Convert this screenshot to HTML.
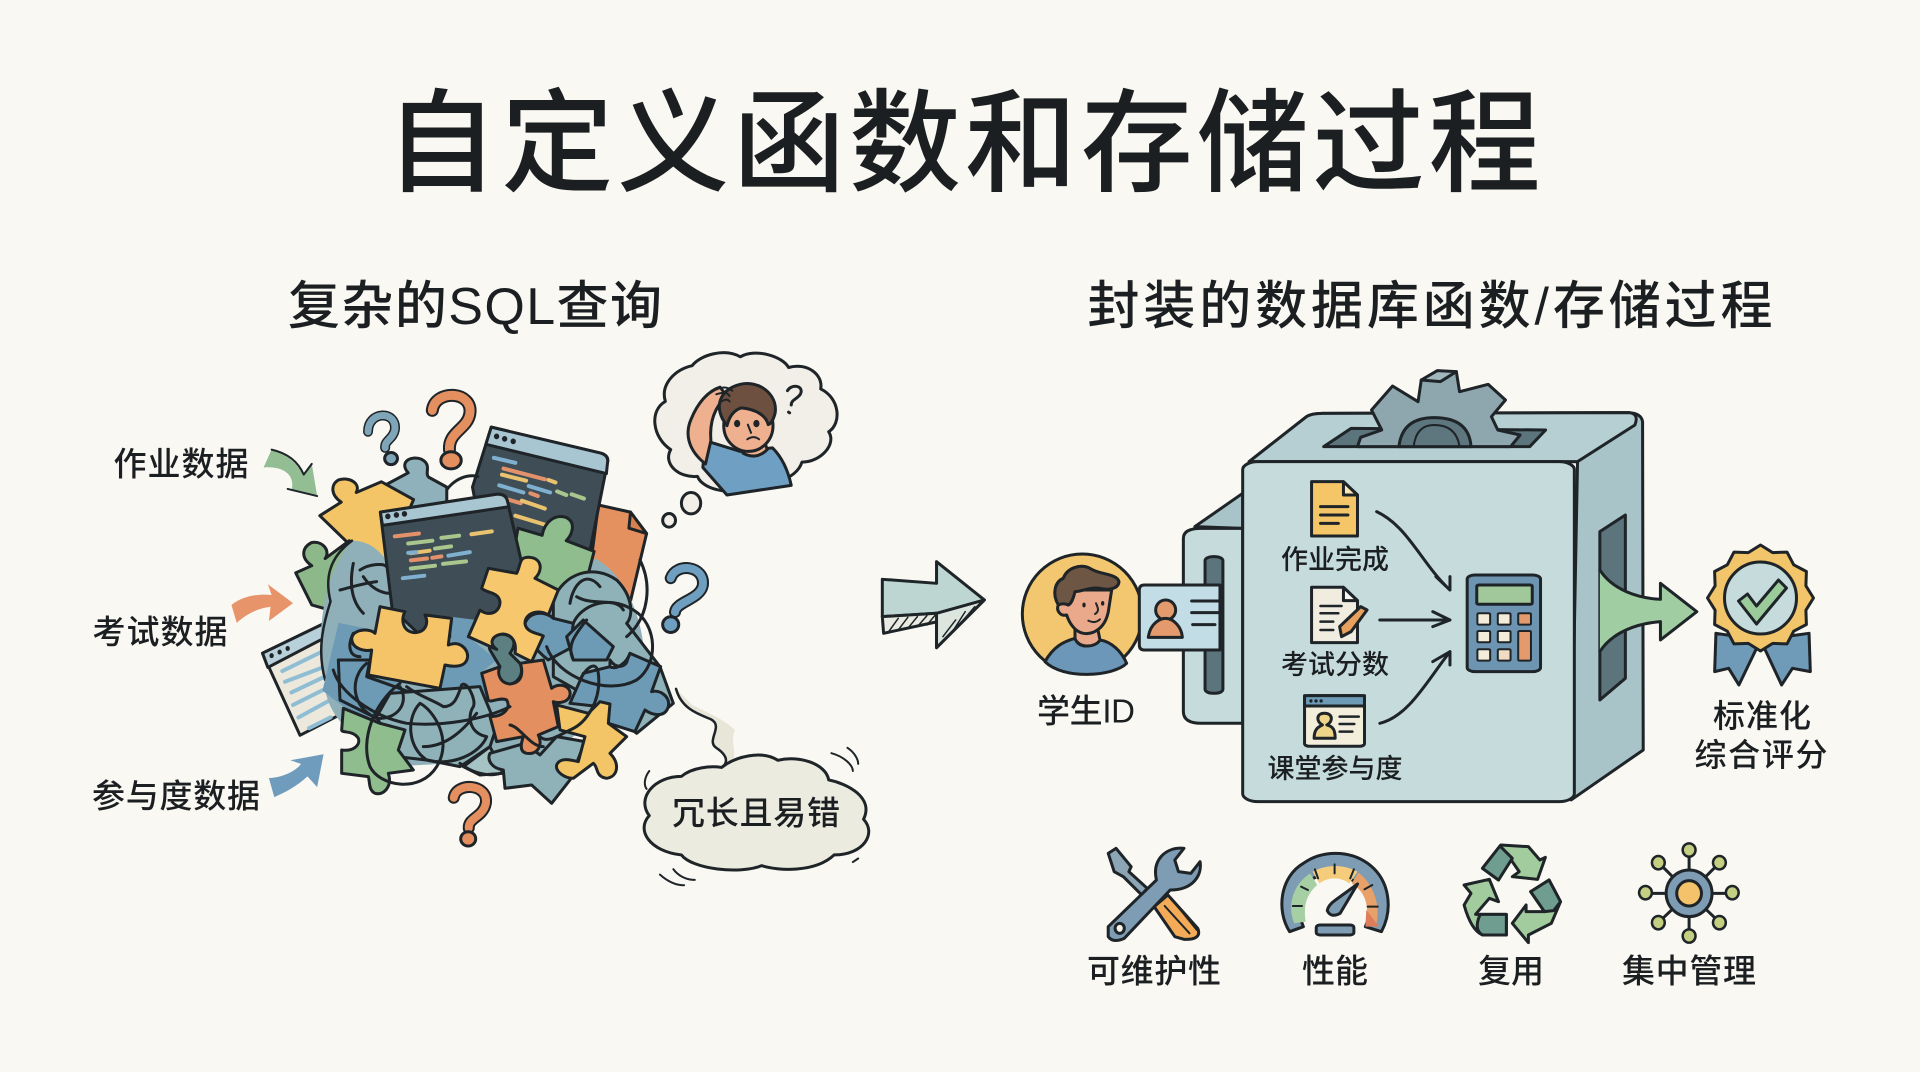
<!DOCTYPE html>
<html><head><meta charset="utf-8"><style>
html,body{margin:0;padding:0;background:#f9f8f3;width:1920px;height:1072px;overflow:hidden}
svg{display:block}
path,ellipse,circle,rect,line,polygon{vector-effect:non-scaling-stroke}
.s{stroke:#1e2427;stroke-width:3;stroke-linejoin:round;stroke-linecap:round}
.n{fill:none}
.o{stroke:none}
text{font-family:"Liberation Sans","Noto Sans CJK SC",sans-serif;fill:#1c1f21;stroke:none;text-anchor:middle;dominant-baseline:central;font-weight:500}
</style></head><body>
<svg width="1920" height="1072" viewBox="0 0 1920 1072" xmlns="http://www.w3.org/2000/svg">
<rect width="1920" height="1072" fill="#f9f8f3"/>
<text x="963" y="144" font-size="112" textLength="1155" lengthAdjust="spacing">自定义函数和存储过程</text>
<text x="475" y="307" font-size="52" textLength="374" lengthAdjust="spacing">复杂的SQL查询</text>
<text x="1430" y="307" font-size="52" textLength="685" lengthAdjust="spacing">封装的数据库函数/存储过程</text>

<!-- LEFT back layer -->
<g class="s" transform="translate(60,330) scale(.5357,.3571)">
 <!-- question marks -->
 <path class="n" d="M695 225C700 165 772 170 765 235C760 278 725 285 727 335" style="stroke-width:13"/>
 <path d="M695 225C700 165 772 170 765 235C760 278 725 285 727 335" style="stroke:#e48f5f;stroke-width:9;fill:none"/>
 <ellipse cx="730" cy="365" rx="19" ry="24" fill="#e48f5f"/>
 <path class="n" d="M575 285C575 225 630 225 625 280C622 305 605 310 607 330" style="stroke-width:10"/>
 <path d="M575 285C575 225 630 225 625 280C622 305 605 310 607 330" style="stroke:#7fa6b8;stroke-width:7;fill:none"/>
 <ellipse cx="618" cy="360" rx="12" ry="17" fill="#7fa6b8"/>
 <path class="n" d="M1140 695C1150 650 1205 660 1200 715C1195 755 1150 760 1148 790" style="stroke-width:12"/>
 <path d="M1140 695C1150 650 1205 660 1200 715C1195 755 1150 760 1148 790" style="stroke:#6f9fc0;stroke-width:8;fill:none"/>
 <ellipse cx="1140" cy="825" rx="15" ry="22" fill="#6f9fc0"/>
 <path class="n" d="M735 1310C740 1265 800 1270 795 1325C790 1365 762 1365 763 1395" style="stroke-width:12"/>
 <path d="M735 1310C740 1265 800 1270 795 1325C790 1365 762 1365 763 1395" style="stroke:#e48f5f;stroke-width:8;fill:none"/>
 <ellipse cx="762" cy="1425" rx="14" ry="20" fill="#e48f5f"/>

 <!-- arrows -->
 <path d="M380 385C420 380 440 410 432 450L480 465L470 375L455 405C440 370 420 345 395 335Z" fill="#93bd92" style="stroke:none"/>
 <path class="n" d="M395 335C425 345 445 370 455 405L470 375M480 465L425 445" style="stroke-width:2"/>
 <path d="M320 770C340 745 370 738 395 742L388 712L435 765L390 815L393 775C365 780 345 800 330 820Z" fill="#e8946a" style="stroke:none"/>
 <path d="M390 1255C420 1252 442 1232 450 1215L430 1205L492 1188L480 1280L462 1250C440 1280 420 1295 400 1308Z" fill="#6f9cbc" style="stroke:none"/>

 <!-- thought bubble -->
 <path d="M1180 100C1195 70 1240 50 1270 75C1300 50 1350 75 1360 105C1395 90 1425 125 1420 165C1455 190 1460 260 1435 285C1450 320 1420 370 1385 370C1375 420 1320 440 1290 425C1265 470 1200 450 1190 410C1155 415 1125 375 1140 335C1105 300 1100 225 1130 200C1120 150 1150 110 1180 100Z" fill="#f1efe8"/>
 <ellipse cx="1178" cy="485" rx="18" ry="30" fill="#f1efe8"/>
 <ellipse cx="1137" cy="533" rx="12" ry="19" fill="#f1efe8"/>
 <path d="M1205 310L1270 340L1330 330C1350 360 1360 400 1365 435L1245 462L1200 385Z" fill="#6f9fc2"/>
 <path d="M1205 375C1175 340 1165 295 1178 250C1190 205 1210 170 1232 160L1245 185C1222 215 1212 255 1215 310Z" fill="#eeb08e"/>
 <path d="M1272 320L1275 345Q1300 365 1320 335L1315 310Z" fill="#eeb08e"/>
 <ellipse cx="1285" cy="268" rx="46" ry="72" fill="#eeb08e"/>
 <path d="M1237 250C1222 205 1235 165 1270 152C1305 140 1340 180 1335 232C1332 250 1328 262 1322 265C1318 240 1300 222 1272 218C1258 225 1250 240 1245 268Z" fill="#6d5040"/>
 <ellipse cx="1264" cy="262" rx="3" ry="6" fill="#1e2427"/>
 <ellipse cx="1300" cy="262" rx="3" ry="6" fill="#1e2427"/>
 <path class="n" d="M1284 265L1290 288M1283 306Q1295 294 1305 306" style="stroke-width:2"/>
 <path class="n" d="M1215 175Q1240 150 1255 170M1225 180Q1245 170 1250 185M1235 200Q1245 190 1250 200" style="stroke-width:2"/>
 <path class="n" d="M1358 170C1365 150 1390 155 1382 180C1375 195 1365 195 1365 210M1360 230L1362 232" style="stroke-width:3"/>

 <!-- orange doc -->
 <path d="M1005 490L1065 510L1095 570L1060 790L985 720Z" fill="#e4915f"/>
 <path d="M1065 510L1062 555L1095 570Z" fill="#d8814e"/>

 <!-- back dark window -->
 <path d="M805 272L1010 345Q1025 352 1022 372L985 650L800 680L770 440Z" fill="#3f4d57"/>
 <path d="M805 272L1010 345Q1025 352 1022 372L1020 402L795 320Z" fill="#a8c5d2"/>
 <g fill="#1e2427" style="stroke:none"><ellipse cx="815" cy="298" rx="5" ry="8"/><ellipse cx="830" cy="305" rx="5" ry="8"/><ellipse cx="846" cy="312" rx="5" ry="8"/></g>
 <g>
  <path class="n" d="M810 358L850 372" style="stroke:#7fb0d0;stroke-width:4"/>
  <path class="n" d="M828 388L905 418" style="stroke:#e3916a;stroke-width:4"/>
  <path class="n" d="M912 420L925 427M825 405L870 422" style="stroke:#e8c26e;stroke-width:4"/>
  <path class="n" d="M820 435L865 455M875 437L915 455" style="stroke:#7fb0d0;stroke-width:4"/>
  <path class="n" d="M928 452L945 462M955 460L978 472" style="stroke:#a9c78c;stroke-width:4"/>
  <path class="n" d="M825 470L860 485M878 457L892 465" style="stroke:#e3916a;stroke-width:4"/>
  <path class="n" d="M862 478L905 500" style="stroke:#e8c26e;stroke-width:4"/>
  <path class="n" d="M850 520L905 545" style="stroke:#e8c26e;stroke-width:4"/>
 </g>
 <path class="n" d="M715 475C720 430 755 400 780 410"/>
 <!-- left light window -->
 <path d="M378 905L530 795L545 1060L448 1135Z" fill="#ece8dc"/>
 <path d="M378 905L530 795L535 830L388 945Z" fill="#b8d0da"/>
 <g fill="#1e2427" style="stroke:none"><ellipse cx="395" cy="912" rx="4" ry="7"/><ellipse cx="410" cy="902" rx="4" ry="7"/><ellipse cx="425" cy="892" rx="4" ry="7"/></g>
 <g style="stroke:#8fbdd4;stroke-width:4;fill:none"><path d="M415 955L490 900M420 985L490 945M432 1015L495 970M435 1050L495 1005M445 1085L500 1040M465 1115L505 1085"/></g>

 <!-- yellow top-left, teal top piece, left green -->
 <path d="M600 440L650 400C632 370 655 350 675 362C695 378 680 400 688 412L722 440L722 500L610 500Z" fill="#8fb1bb"/>
 <path d="M520 420C540 410 562 430 553 455L600 425L660 475L610 650L540 600L485 520L525 482C505 462 505 432 520 420Z" fill="#f4c566"/>
 <path d="M470 595C492 590 505 620 495 640L540 590L640 720L505 785L470 770L440 680L470 660C450 640 450 610 470 595Z" fill="#8db98a"/>
 <!-- base blob -->
 <path d="M545 590C590 590 610 640 640 720L820 780L1000 640C1070 700 1100 860 1090 1000L900 1200L650 1220C560 1170 490 1080 495 980C475 880 490 680 545 590Z" fill="#8fb0b8" style="stroke:none"/>
 <path class="n" d="M545 590C500 640 495 700 505 760C490 830 480 900 495 980" style="stroke-width:2.5;fill:none"/>
 <path d="M520 820L620 850L640 1050L560 1090L490 1010Z" fill="#6d9ab5" style="stroke:none"/>
 <!-- green upper right piece -->
 <path d="M855 555L900 575C905 535 925 515 945 525C965 540 955 575 945 590L997 620L985 690L900 760L840 680Z" fill="#8fbd8d"/>
 <!-- front dark window -->
 <path d="M598 510L815 460Q832 458 835 478L880 770L690 880L620 780Z" fill="#3f4d57"/>
 <path d="M598 510L815 460Q832 458 835 478L838 495L602 547Z" fill="#a8c5d2"/>
 <g fill="#1e2427" style="stroke:none"><ellipse cx="612" cy="522" rx="5" ry="8"/><ellipse cx="628" cy="518" rx="5" ry="8"/><ellipse cx="643" cy="515" rx="5" ry="8"/></g>
 <g style="fill:none">
  <path d="M625 578L670 570" style="stroke:#e3916a;stroke-width:4"/>
  <path d="M650 598L695 590M712 582L745 576" style="stroke:#a9c78c;stroke-width:4"/>
  <path d="M768 572L806 564" style="stroke:#e8c26e;stroke-width:4"/>
  <path d="M655 625L690 618" style="stroke:#e8c26e;stroke-width:4"/>
  <path d="M700 612L730 606" style="stroke:#a9c78c;stroke-width:4"/>
  <path d="M650 624L665 622M725 632L765 622" style="stroke:#7fb0d0;stroke-width:4"/>
  <path d="M655 645L685 640M695 638L712 634" style="stroke:#e3916a;stroke-width:4"/>
  <path d="M655 668L700 660M715 655L758 648" style="stroke:#a9c78c;stroke-width:4"/>
  <path d="M640 695L680 688" style="stroke:#7fb0d0;stroke-width:4"/>
 </g>
</g>

<!-- LEFT puzzle mass -->
<g class="s" transform="translate(340,560) scale(.3333)">
 <path d="M640 120C670 40 760 10 830 60C880 110 880 170 860 190L960 320L1000 430L890 520L780 430L640 350Z" fill="#8fb1b8"/>
 <path d="M555 190C570 150 620 155 640 175L700 190L690 265L625 300C585 270 550 220 555 190Z" fill="#6d9ab5"/>
 <path d="M680 230L730 180L820 260L800 300L700 300Z" fill="#6d9ab5"/>
 <path d="M330 170L410 180L385 230L470 300L420 340L445 420L330 400L300 390L320 320L380 290L335 250Z" fill="#6d9ab5" style="stroke:none"/>
 <path d="M-5 300L90 300L80 350L220 400L180 460L120 480L0 420Z" fill="#6d9ab5"/>
 <path d="M150 400L420 380L470 500L450 560L360 620L260 600L170 590L110 470Z" fill="#8fb1b8"/>
 <path d="M370 620L450 560L490 640L420 645Z" fill="#a5c2c4"/>
 <!-- green bottom-left -->
 <path d="M10 445L120 490L195 510L175 570L220 630L145 640C158 680 130 708 105 700C85 690 90 665 85 650L5 640L5 570C40 575 62 555 55 535C40 510 5 520 5 510Z" fill="#8fbd8d"/>
 <!-- right blue -->
 <path d="M810 320C830 330 860 310 870 280L962 320L935 395C960 388 992 410 985 440C975 475 935 465 915 450L885 515L805 490L780 440L690 430L730 340Z" fill="#6d9ab5"/>
 <path d="M810 320C830 330 860 310 870 280L862 300C860 320 830 330 810 300Z" fill="#c8cfcf"/>
 <!-- teal bottom -->
 <path d="M450 580L555 550L600 585L650 530L735 545L690 660L635 730L575 675L495 685L490 630C455 625 440 600 450 580Z" fill="#8fb1b8"/>
 <!-- yellow lower right -->
 <path d="M650 435L745 460L780 425L810 432L805 490L860 530L810 580C840 610 835 650 800 655C765 650 775 620 760 610L700 655C675 655 645 635 650 615C660 590 695 600 715 605L735 530L660 510Z" fill="#f4c566"/>
 <!-- orange -->
 <path d="M425 340L480 320C470 340 490 370 520 370C555 360 545 320 540 310L610 300L635 385C660 365 695 380 690 405C685 430 650 430 640 425L655 500L595 525C610 560 590 585 560 580C535 575 545 545 550 530L470 545L450 470C490 470 515 445 500 420C480 410 450 430 445 420Z" fill="#e48f5f"/>
 <path d="M450 270C440 240 470 215 500 225C530 235 525 260 510 280L540 310C555 345 530 370 510 372C480 370 470 340 480 320Z" fill="#5c7f82"/>
 <!-- yellow B -->
 <path d="M445 25L530 40C545 10 535 -10 570 -8C605 -5 610 30 585 55L655 90L625 165C595 145 555 160 555 190C558 220 600 220 610 228L575 305L525 280C530 250 520 225 490 222C455 225 445 250 470 268L385 230L420 150C445 170 480 160 480 125C475 95 440 100 425 85Z" fill="#f6c76d"/>
 <!-- yellow A -->
 <path d="M120 140L195 155C183 175 185 215 225 218C262 215 265 185 255 165L335 175L325 255C360 240 388 270 382 295C375 325 335 320 315 315L300 385L85 345L95 270C70 275 35 265 35 235C40 205 90 205 105 220Z" fill="#f6c468"/>
 <!-- tangle -->
 <g style="fill:none">
  <path d="M620 260C650 350 800 410 890 360C960 310 950 190 880 150C800 100 720 140 700 190"/>
  <path d="M900 0C935 70 930 170 860 230M720 360C740 320 770 300 775 340C785 420 740 490 690 510C650 530 620 550 600 530"/>
  <path d="M690 130C700 70 740 30 780 80M710 110C760 140 830 110 850 150"/>
  <path d="M740 180C700 230 680 260 700 300"/>
  <path d="M510 440C430 480 300 500 200 490C100 470 0 400 -20 330"/>
  <path d="M80 310C30 350 30 440 110 475C170 480 210 430 180 380"/>
  <path d="M180 370C100 430 60 540 90 620C120 680 240 700 290 620C340 540 280 450 240 430C200 470 200 560 260 600C340 620 420 580 440 530C390 520 380 470 400 440C410 420 380 360 365 375C350 420 340 440 310 440C280 420 240 410 200 380"/>
  <path d="M250 560C320 560 370 510 410 460"/>
  <path d="M360 610C410 650 470 650 490 635"/>
  <path d="M510 495C540 500 570 560 610 560"/>
  <path d="M40 10C30 60 30 120 70 160M0 90C40 80 70 70 110 65M60 30C90 10 130 10 140 20M70 50C90 80 120 100 150 100"/>
  <path d="M40 220C20 260 30 290 60 290"/>
 </g>
</g>

<!-- LEFT bottom bubble + squiggle -->
<g class="s" transform="translate(60,330) scale(.5357,.3571)">
 <path d="M1150 1005C1160 1060 1190 1075 1215 1090C1240 1110 1205 1150 1225 1170C1250 1195 1245 1215 1235 1225L1255 1215C1265 1180 1250 1150 1260 1120C1240 1090 1200 1065 1180 1050" fill="#e8e6d9" style="stroke:none"/>
 <path class="n" d="M1150 1005C1160 1060 1190 1075 1215 1090C1240 1110 1205 1150 1225 1170C1250 1195 1245 1215 1235 1225" style="stroke-width:2.5;fill:none"/>
 <path d="M1235 1225C1260 1195 1310 1175 1340 1205C1380 1190 1430 1215 1435 1260C1470 1270 1520 1310 1500 1370C1525 1410 1500 1470 1445 1470C1410 1520 1340 1515 1310 1500C1270 1525 1180 1510 1160 1470C1100 1460 1075 1400 1100 1360C1075 1310 1110 1250 1160 1250C1180 1225 1215 1220 1235 1225Z" fill="#ecebdf"/>
 <path class="n" d="M1100 1235C1090 1255 1090 1275 1095 1285M1440 1185C1465 1195 1480 1220 1480 1235M1470 1170C1485 1185 1490 1205 1490 1215M1120 1525C1135 1545 1150 1555 1165 1555M1145 1510C1155 1530 1170 1540 1185 1540M1480 1490L1490 1480" style="stroke-width:2;fill:none"/>
</g>

<!-- RIGHT machine -->
<g class="s" transform="translate(860,350) scale(.6378,.3333)">
 <!-- big arrow -->
 <path d="M35 688L120 700L120 635L195 750L120 893L120 790L35 800Z" fill="#bdd6d2"/>
 <path d="M35 800L120 790L122 815L37 850Z" fill="#e9ebe2"/>
 <path d="M120 790L195 750L120 893Z" fill="#dde5df"/>
 <path class="n" d="M45 845L60 805M60 840L75 802M75 835L90 800M90 830L105 797M105 825L118 795M130 860L150 810M145 845L165 785M160 815L180 770" style="stroke-width:1.5;fill:none"/>
 <!-- left box -->
 <path d="M525 530L600 430L600 535Z" fill="#a9c4c8"/>
 <path d="M600 535L535 535Q507 535 507 565L507 1085Q507 1120 535 1120L600 1120Z" fill="#c5dbdc"/>
 <rect x="541" y="620" width="28" height="410" rx="12" fill="#5c747c"/>
 <!-- top -->
 <path d="M610 335L700 200Q708 190 725 190L1205 188Q1225 190 1227 215L1228 1200L1115 1350L1125 335Z" fill="#a9c4c8"/>
 <path d="M610 335L700 200Q708 190 725 190L1205 188Q1222 190 1215 225L1125 335Z" fill="#b5cfd2"/>
 <path d="M770 235L1075 240L1050 290L727 290Z" fill="#5c747c"/>
 <!-- gear -->
 <path d="M780 290L785 262L818 240L802 180L835 108L875 155L880 90L935 65L940 125L985 103L1012 150L990 200L1000 240L1035 255L1020 290Z" fill="#8ea6ad"/>
 <path d="M845 290Q850 203 900 203Q955 203 958 290Z" fill="#5e777e"/>
 <path class="n" d="M868 290Q872 225 900 225Q935 225 940 290" style="stroke-width:2;fill:none"/>
 <path d="M880 90L905 62L935 65L910 95Z" fill="#a2b7bc"/>
 <!-- front -->
 <rect x="600" y="335" width="520" height="1020" rx="24" fill="#c5dbdc"/>
 <!-- right slot -->
 <path d="M1160 545L1200 495L1200 985L1160 1050Z" fill="#5c747c"/>
 <!-- green exit arrow -->
 <path d="M1160 660C1180 720 1220 745 1255 748L1255 700L1312 785L1255 870L1255 815C1220 820 1180 845 1160 905Z" fill="#a0cda2" style="stroke:none"/>
 <path d="M1160 660C1180 720 1220 745 1255 748L1255 700L1312 785L1255 870L1255 815C1220 820 1180 845 1160 905" style="fill:none"/>
 <!-- doc yellow -->
 <path d="M708 395L758 395L780 435L780 558L708 558Z" fill="#f5c668"/>
 <path d="M758 395L758 435L780 435Z" fill="#f9e6b6"/>
 <path d="M722 470H765M722 495H765M722 520H750" style="fill:none"/>
 <!-- doc paper -->
 <path d="M708 712L758 712L780 752L780 878L708 878Z" fill="#f0ece0"/>
 <path d="M758 712L758 752L780 752Z" fill="#f9f8f3"/>
 <path d="M722 768H755M722 790H750M722 815H742M722 840H742" style="fill:none;stroke-width:2.5"/>
 <path d="M755 860L752 830L785 770L795 780L770 845Z" fill="#e8a05f"/>
 <!-- attendance -->
 <rect x="697" y="1037" width="94" height="152" rx="8" fill="#f2eedb"/>
 <path d="M697 1037H791V1068H697Z" fill="#6d9ab5"/>
 <g style="stroke:none" fill="#1e2427"><ellipse cx="707" cy="1053" rx="2.5" ry="5"/><ellipse cx="715" cy="1053" rx="2.5" ry="5"/><ellipse cx="723" cy="1053" rx="2.5" ry="5"/></g>
 <path d="M712 1165C712 1135 720 1130 725 1125C715 1115 715 1090 728 1090C742 1090 742 1115 732 1125C742 1130 745 1140 745 1165Z" fill="#eed58a"/>
 <path d="M752 1100H782M752 1122H775M752 1145H772" style="fill:none;stroke-width:2.5"/>
 <!-- connectors -->
 <path d="M810 485C860 530 880 640 925 720M903 680L925 720L925 680" style="fill:none"/>
 <path d="M815 810H925M898 785L925 810L898 830" style="fill:none"/>
 <path d="M815 1120C860 1100 890 990 925 905M925 945L925 905L898 935" style="fill:none"/>
 <!-- calculator -->
 <rect x="952" y="675" width="115" height="290" rx="12" fill="#6d94b0"/>
 <rect x="967" y="705" width="87" height="58" rx="4" fill="#a0c89a"/>
 <g fill="#f2ecd9" style="stroke-width:2">
  <rect x="968" y="790" width="20" height="34" rx="3"/><rect x="1000" y="790" width="20" height="34" rx="3"/><rect x="1032" y="790" width="20" height="34" rx="3" fill="#e39a6c"/>
  <rect x="968" y="843" width="20" height="34" rx="3"/><rect x="1000" y="843" width="20" height="34" rx="3"/>
  <rect x="968" y="898" width="20" height="34" rx="3"/><rect x="1000" y="898" width="20" height="34" rx="3" fill="#f0dcc2"/>
  <rect x="1032" y="843" width="20" height="89" rx="3" fill="#e39a6c"/>
 </g>
 <!-- ribbons -->
 <path d="M1342 850L1412 870L1378 1005L1362 955L1340 965Z" fill="#6f9ab8"/>
 <path d="M1488 850L1412 870L1445 1005L1462 955L1490 965Z" fill="#6f9ab8"/>
</g>

<!-- avatar + card -->
<g class="s" transform="translate(1020,540) scale(.3333)">
 <circle cx="187" cy="222" r="180" fill="#f3c76f"/>
 <path d="M75 365C100 320 130 305 165 295C175 325 215 325 240 300C275 305 305 335 320 370C280 410 130 420 75 365Z" fill="#6d97b8"/>
 <path d="M165 250L165 295C175 325 225 325 240 300L230 250Z" fill="#e9a98a"/>
 <path d="M145 150L275 150L265 215C255 265 220 285 190 280C160 275 145 240 140 225C120 230 108 210 115 195C125 185 145 195 145 195Z" fill="#e9a98a"/>
 <path d="M115 195C95 160 105 125 130 115C140 85 180 70 210 85C240 105 290 100 297 125C295 150 260 150 240 145C210 140 185 155 165 155C160 175 155 190 145 195C135 190 125 190 115 195Z" fill="#6d5644"/>
 <g style="stroke:none" fill="#1e2427"><ellipse cx="192" cy="195" rx="5" ry="7"/><ellipse cx="248" cy="190" rx="5" ry="7"/></g>
 <path d="M228 190C235 205 238 215 225 222M205 242Q225 252 240 238" style="fill:none;stroke-width:2"/>
 <path d="M600 135L373 135Q358 135 358 150L358 315Q358 330 373 330L600 330Z" fill="#c2dde5"/>
 <circle cx="437" cy="210" r="30" fill="#e39a6c"/>
 <path d="M385 292C390 250 420 235 437 235C460 235 485 260 487 292Z" fill="#e39a6c"/>
 <path d="M515 183H600M515 218H600M518 254H585" style="fill:none"/>
</g>

<!-- badge -->
<g class="s" transform="translate(1760.5,598)">
 <polygon points="53,0 45.4,12.2 45.9,26.5 33.2,33.2 26.5,45.9 12.2,45.4 0,53 -12.2,45.4 -26.5,45.9 -33.2,33.2 -45.9,26.5 -45.4,12.2 -53,0 -45.4,-12.2 -45.9,-26.5 -33.2,-33.2 -26.5,-45.9 -12.2,-45.4 0,-53 12.2,-45.4 26.5,-45.9 33.2,-33.2 45.9,-26.5 45.4,-12.2" fill="#f3c56b"/>
 <circle r="36" fill="#c5dbdc"/>
 <path d="M-22 3L-13 -4L-4 8L18 -18L26 -10L-4 26Z" fill="#9ccb9b"/>
</g>

<!-- bottom icons -->
<g class="s" transform="translate(1060,820) scale(.4592,.3333)">
 <!-- screwdriver -->
 <path d="M105 100L122 85L155 140L150 155L190 205L178 225L138 170L118 155Z" fill="#8ca6b5"/>
 <path d="M205 260L235 225L300 325Q310 360 270 358L250 350Z" fill="#f3ab57"/>
 <path d="M228 258L282 340M248 245L298 330" style="fill:none;stroke-width:2"/>
 <!-- wrench -->
 <path d="M105 320L210 180C200 120 230 80 270 85L250 120L258 155L285 160L305 125C310 165 290 210 240 210L140 355Q115 370 105 350Z" fill="#7e9cb3"/>
 <ellipse cx="130" cy="325" rx="10" ry="15" fill="#f5f3ea"/>
 <!-- gauge -->
 <path d="M500 335C470 270 480 170 530 130C570 90 630 90 670 130C720 180 725 270 700 335L665 320C685 260 665 200 630 175C600 155 570 160 545 180C515 210 515 270 530 320Z" fill="#7e9cb3"/>
 <path d="M510 310C495 260 505 195 545 160L560 195C535 225 530 260 535 305Z" fill="#a6cfa4" style="stroke:none"/>
 <path d="M550 155C585 130 620 135 648 155L630 190C610 170 585 170 565 190Z" fill="#f5cc7c" style="stroke:none"/>
 <path d="M650 158C680 190 700 250 688 318L665 310C675 260 665 215 635 190Z" fill="#e8a169" style="stroke:none"/>
 <path d="M667 270L695 320L665 320Z" fill="#de7d5c" style="stroke:none"/>
 <path d="M507 258L527 258M525 200L540 210M555 148L562 175M598 133L598 160M640 148L632 175M680 195L663 208M692 260L670 260" style="stroke-width:2;fill:none"/>
 <path d="M648 192L610 280Q590 295 582 272Q584 255 600 240Z" fill="#7e9cb3"/>
 <rect x="558" y="315" width="82" height="30" rx="8" fill="#7e9cb3"/>
 <!-- recycle -->
 <path d="M920 145L960 75L1020 80L1045 120L1057 112L1040 178L985 170L1000 155L980 115L955 180Z" fill="#a3cc9e"/>
 <path d="M920 145L958 78L985 115L955 180Z" fill="#6f9d90"/>
 <path d="M880 195L935 178L955 245L935 235L905 283L972 283L972 345L920 345Q895 330 880 255L895 220Z" fill="#a3cc9e"/>
 <path d="M915 283H972V345H920Q900 330 915 283Z" fill="#6f9d90"/>
 <path d="M1025 215L1065 180L1090 245L1070 310L1020 345L1020 368L985 310L1015 255L1015 275L1055 275L1025 215Z" fill="#a3cc9e"/>
 <path d="M1025 215L1065 180L1090 245L1075 272L1055 275Z" fill="#6f9d90"/>
 <!-- hub -->
 <path d="M1370 220L1370 105M1370 220L1370 335M1370 220L1275 220M1370 220L1465 220M1370 220L1305 130M1370 220L1435 130M1370 220L1305 305M1370 220L1435 305" style="fill:none"/>
 <ellipse cx="1370" cy="220" rx="50" ry="70" fill="#7e9cb3"/>
 <ellipse cx="1370" cy="220" rx="27" ry="38" fill="#f3c26a"/>
 <g fill="#c5cf82" style="stroke-width:2.5">
  <ellipse cx="1370" cy="90" rx="14" ry="20"/><ellipse cx="1370" cy="348" rx="14" ry="20"/>
  <ellipse cx="1275" cy="218" rx="14" ry="20"/><ellipse cx="1464" cy="218" rx="14" ry="20"/>
  <ellipse cx="1303" cy="128" rx="14" ry="20"/><ellipse cx="1436" cy="128" rx="14" ry="20"/>
  <ellipse cx="1303" cy="308" rx="14" ry="20"/><ellipse cx="1436" cy="308" rx="14" ry="20"/>
 </g>
</g>

<!-- labels -->
<text x="181" y="464" font-size="33" textLength="135">作业数据</text>
<text x="160" y="632" font-size="33" textLength="135">考试数据</text>
<text x="176" y="796" font-size="33" textLength="168">参与度数据</text>
<text x="756" y="813" font-size="33" textLength="168">冗长且易错</text>
<text x="1086" y="711" font-size="33" textLength="98">学生ID</text>
<text x="1335" y="560" font-size="27" textLength="108">作业完成</text>
<text x="1335" y="665" font-size="27" textLength="108">考试分数</text>
<text x="1335" y="769" font-size="27" textLength="135">课堂参与度</text>
<text x="1762" y="716" font-size="32" textLength="98">标准化</text>
<text x="1761" y="755" font-size="32" textLength="133">综合评分</text>
<text x="1154" y="971" font-size="33" textLength="134">可维护性</text>
<text x="1335" y="971" font-size="33" textLength="66">性能</text>
<text x="1511" y="971" font-size="33" textLength="66">复用</text>
<text x="1689" y="971" font-size="33" textLength="134">集中管理</text>
</svg>
</body></html>
